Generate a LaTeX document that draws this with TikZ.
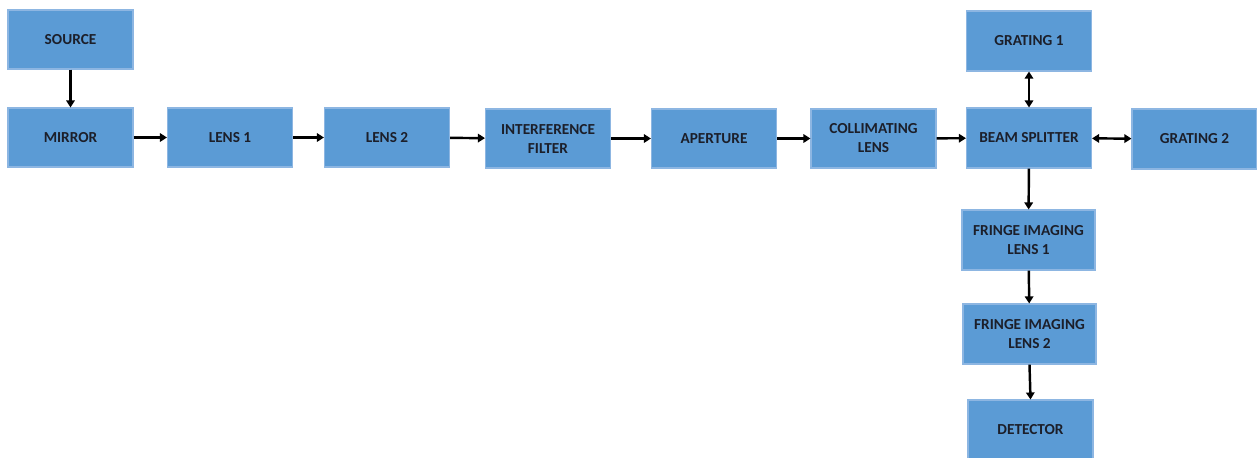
\documentclass[tikz,border=0pt]{standalone}
\usepackage{fontspec}
\setmainfont{Carlito}
\usepackage{tikz}
\usetikzlibrary{arrows.meta, positioning}
\definecolor{boxfill}{HTML}{5B9BD5}
\definecolor{boxline}{HTML}{8DB6E2}
\definecolor{boxtext}{HTML}{1C1F2A}

\begin{document}
\begin{tikzpicture}[
  block/.style={draw=boxline, line width=0.6pt, fill=boxfill, minimum width=2.5cm, minimum height=1.18cm, align=center, text=boxtext, font=\fontsize{8.7}{10.8}\selectfont\bfseries, inner sep=1pt},
  wideblock/.style={block, minimum width=2.66cm, minimum height=1.2cm},
  flow/.style={-{Triangle[length=4pt,width=4.8pt]}, line width=1.4pt},
  twoway/.style={{Triangle[length=4pt,width=4.8pt]}-{Triangle[length=4pt,width=4.8pt]}, line width=1.4pt}
]
\useasboundingbox (0,0) rectangle (25.14,-9.14);

% Blocks
\node[block] (source)   at (1.41,-0.79)  {SOURCE};
\node[block] (mirror)   at (1.41,-2.75)  {MIRROR};
\node[block] (lens1)    at (4.60,-2.75)  {LENS 1};
\node[block] (lens2)    at (7.74,-2.75)  {LENS 2};
\node[block] (filter)   at (10.96,-2.77) {INTERFERENCE\\FILTER};
\node[block] (aperture) at (14.28,-2.77) {APERTURE};
\node[block] (collim)   at (17.47,-2.77) {COLLIMATING\\LENS};
\node[block, minimum height=1.2cm] (grating1) at (20.58,-0.82) {GRATING 1};
\node[block, minimum height=1.2cm] (splitter) at (20.58,-2.76) {BEAM SPLITTER};
\node[block, minimum height=1.2cm] (grating2) at (23.89,-2.78) {GRATING 2};
\node[wideblock] (fringe1)  at (20.57,-4.80) {FRINGE IMAGING\\LENS 1};
\node[wideblock] (fringe2)  at (20.59,-6.68) {FRINGE IMAGING\\LENS 2};
\node[block, minimum height=1.2cm] (detector) at (20.61,-8.60) {DETECTOR};

% Main path
\draw[flow] (source) -- (mirror);
\draw[flow] (mirror) -- (lens1);
\draw[flow] (lens1) -- (lens2);
\draw[flow] (lens2) -- (filter);
\draw[flow] (filter) -- (aperture);
\draw[flow] (aperture) -- (collim);
\draw[flow] (collim) -- (splitter);

% Interferometer arms
\draw[twoway] (splitter) -- (grating1);
\draw[twoway] (splitter) -- (grating2);

% Imaging
\draw[flow] (splitter) -- (fringe1);
\draw[flow] (fringe1) -- (fringe2);
\draw[flow] (fringe2.south) -- (detector.north);

\end{tikzpicture}
\end{document}
